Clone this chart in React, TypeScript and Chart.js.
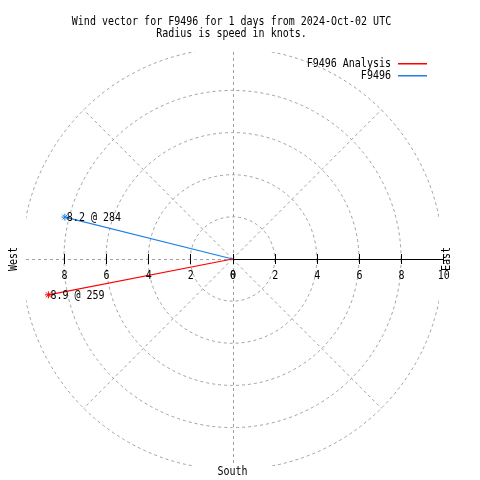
import React, { useEffect, useRef } from "react";
import { Chart, registerables } from "chart.js";

Chart.register(...registerables);

const titleLines = [
  "Wind vector for F9496 for 1 days from 2024-Oct-02 UTC",
  "Radius is speed in knots.",
];
const seriesNames = ["F9496 Analysis", "F9496"];
const speeds = [8.9, 8.2];
const directions = [259, 284];
const radialTicks = [2, 4, 6, 8, 10];
const leftTickLabels = ["8", "6", "4", "2", "0"];
const leftTickValues = [-8, -6, -4, -2, 0];
const rightTickLabels = ["0", "2", "4", "6", "8", "10"];
const rightTickValues = [0, 2, 4, 6, 8, 10];
const spokeAngles = [45, 135, 225, 315];
const compass = { west: "West", east: "East", south: "South" };

const seriesColors = ["#ff0000", "#1e80e6"];
const GRID = "#a0a0a0";
const FONT = "13px 'DejaVu Sans Mono', monospace";
const SX = 0.77;

function txt(
  ctx: CanvasRenderingContext2D,
  s: string,
  x: number,
  y: number,
  align: CanvasTextAlign,
  baseline: CanvasTextBaseline = "alphabetic",
  rot = 0
) {
  ctx.save();
  ctx.translate(x, y);
  if (rot) ctx.rotate(rot);
  ctx.scale(SX, 1);
  ctx.font = FONT;
  ctx.fillStyle = "#000";
  ctx.textAlign = align;
  ctx.textBaseline = baseline;
  ctx.fillText(s, 0, 0);
  ctx.restore();
}

function toXY(speed: number, dir: number) {
  const a = (dir * Math.PI) / 180;
  return { x: speed * Math.sin(a), y: speed * Math.cos(a) };
}

const polarPlugin = {
  id: "polarGrid",
  beforeDatasetsDraw(chart: any) {
    const { ctx, chartArea, scales } = chart;
    const xs = scales.x;
    const ys = scales.y;
    const cx = xs.getPixelForValue(0);
    const cy = ys.getPixelForValue(0);
    const unit = xs.getPixelForValue(1) - cx;
    ctx.save();
    ctx.beginPath();
    ctx.rect(chartArea.left, chartArea.top, chartArea.right - chartArea.left, chartArea.bottom - chartArea.top);
    ctx.clip();
    ctx.strokeStyle = GRID;
    ctx.lineWidth = 1;
    ctx.setLineDash([3, 3]);
    radialTicks.forEach((r) => {
      ctx.beginPath();
      ctx.arc(cx, cy, r * unit, 0, Math.PI * 2);
      ctx.stroke();
    });
    const rMax = radialTicks[radialTicks.length - 1];
    spokeAngles.forEach((deg) => {
      const p = toXY(rMax, deg);
      ctx.beginPath();
      ctx.moveTo(cx, cy);
      ctx.lineTo(xs.getPixelForValue(p.x), ys.getPixelForValue(p.y));
      ctx.stroke();
    });
    ctx.beginPath();
    ctx.moveTo(Math.round(cx) + 0.5, chartArea.top);
    ctx.lineTo(Math.round(cx) + 0.5, chartArea.bottom);
    ctx.stroke();
    ctx.beginPath();
    ctx.moveTo(chartArea.left, Math.round(cy) + 0.5);
    ctx.lineTo(cx, Math.round(cy) + 0.5);
    ctx.stroke();
    ctx.restore();

    ctx.save();
    ctx.strokeStyle = "#000";
    ctx.lineWidth = 1;
    ctx.setLineDash([]);
    ctx.beginPath();
    ctx.moveTo(cx, Math.round(cy) + 0.5);
    ctx.lineTo(xs.getPixelForValue(10), Math.round(cy) + 0.5);
    ctx.stroke();
    const allTicks = leftTickValues.concat(rightTickValues);
    allTicks.forEach((v) => {
      const px = Math.round(xs.getPixelForValue(v)) + 0.5;
      ctx.beginPath();
      ctx.moveTo(px, cy - 5);
      ctx.lineTo(px, cy + 5);
      ctx.stroke();
    });
    ctx.restore();
  },
  afterDraw(chart: any) {
    const { ctx, scales } = chart;
    const xs = scales.x;
    const ys = scales.y;
    const cx = xs.getPixelForValue(0);
    const cy = ys.getPixelForValue(0);
    leftTickValues.forEach((v, i) => {
      txt(ctx, leftTickLabels[i], xs.getPixelForValue(v) + 0.5, cy + 19.5, "center");
    });
    rightTickValues.forEach((v, i) => {
      txt(ctx, rightTickLabels[i], xs.getPixelForValue(v) + 0.5, cy + 19.5, "center");
    });
    txt(ctx, compass.west, 14, cy, "center", "middle", -Math.PI / 2);
    txt(ctx, compass.east, 447, cy, "center", "middle", -Math.PI / 2);
    txt(ctx, compass.south, cx, 475, "center");
    txt(ctx, titleLines[0], 231.5, 24.5, "center");
    txt(ctx, titleLines[1], 231.5, 37, "center");
    seriesNames.forEach((name, i) => {
      const base = 66.5 + i * 12.6;
      txt(ctx, name, 391, base, "right");
      ctx.save();
      ctx.fillStyle = seriesColors[i];
      ctx.fillRect(398, Math.round(base - 4), 29, 1.5);
      ctx.restore();
    });
    speeds.forEach((s, i) => {
      const p = toXY(s, directions[i]);
      const px = xs.getPixelForValue(p.x);
      const py = ys.getPixelForValue(p.y);
      txt(ctx, `${s.toFixed(1)} @ ${directions[i]}`, px + 2, py + 4, "left");
    });
  },
};

export default function App() {
  const ref = useRef<HTMLCanvasElement | null>(null);
  useEffect(() => {
    if (!ref.current) return;
    const datasets = speeds.map((s, i) => {
      const p = toXY(s, directions[i]);
      return {
        label: seriesNames[i],
        data: [
          { x: 0, y: 0 },
          { x: p.x, y: p.y },
        ],
        showLine: true,
        borderColor: seriesColors[i],
        backgroundColor: seriesColors[i],
        borderWidth: 1.2,
        pointStyle: "star" as const,
        pointRadius: [0, 3.5],
        pointBorderWidth: 1,
        pointBorderColor: seriesColors[i],
      };
    });
    const chart = new Chart(ref.current, {
      type: "scatter",
      data: { datasets },
      plugins: [polarPlugin],
      options: {
        animation: false,
        responsive: false,
        events: [],
        layout: { padding: { left: 26, right: 41, top: 52, bottom: 14 } },
        plugins: {
          legend: { display: false },
          title: { display: false },
          tooltip: { enabled: false },
        },
        scales: {
          x: { type: "linear", min: -9.8, max: 9.8, display: false },
          y: { type: "linear", min: -9.8, max: 9.8, display: false },
        },
      },
    });
    return () => chart.destroy();
  }, []);
  return (
    <div style={{ position: "fixed", left: 0, top: 0, width: 480, height: 480, background: "#fff" }}>
      <canvas ref={ref} width={480} height={480} style={{ display: "block", width: 480, height: 480 }} />
    </div>
  );
}
